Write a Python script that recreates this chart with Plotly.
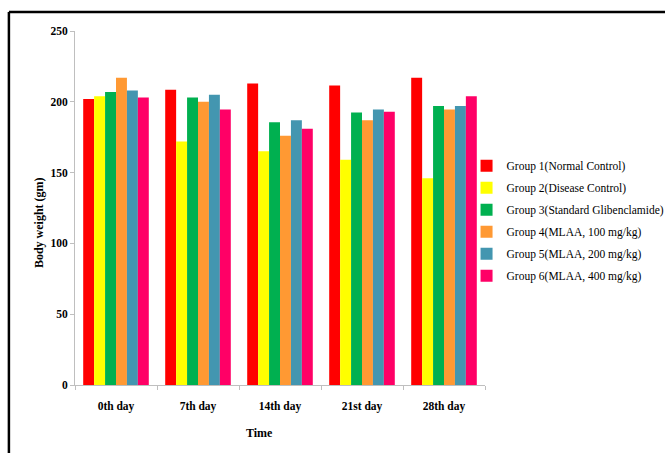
import plotly.graph_objects as go

# Body weight (gm) per group over the study period
days = ["0th day", "7th day", "14th day", "21st day", "28th day"]

group1 = [202, 208.5, 213, 211.5, 217]
group2 = [204, 172, 165, 159, 146]
group3 = [207, 203, 185.5, 192.5, 197]
group4 = [217, 200, 176, 187, 194.5]
group5 = [208, 205, 187, 194.5, 197]
group6 = [203, 194.5, 181, 193, 204]

names = [
    "Group 1(Normal Control)",
    "Group 2(Disease Control)",
    "Group 3(Standard Glibenclamide)",
    "Group 4(MLAA, 100 mg/kg)",
    "Group 5(MLAA, 200 mg/kg)",
    "Group 6(MLAA, 400 mg/kg)",
]
colors = ["#FF0000", "#FFFF00", "#00B050", "#FF9933", "#4396B0", "#FF0066"]
series = [group1, group2, group3, group4, group5, group6]

serif = "Liberation Serif, Times New Roman, serif"

fig = go.Figure()
for i, (name, vals, col) in enumerate(zip(names, series, colors)):
    fig.add_trace(go.Bar(
        x=days, y=vals, name=name,
        marker=dict(color=col, line=dict(width=0)),
        legendgroup=f"g{i}",
    ))

fig.update_layout(
    width=665, height=453,
    margin=dict(l=75, r=180, t=31, b=68, autoexpand=False),
    paper_bgcolor="white", plot_bgcolor="white",
    barmode="group", bargap=0.2, bargroupgap=0,
    font=dict(family=serif, color="#000000", size=11),
    showlegend=True,
    legend=dict(
        x=0.955, y=0.66, xanchor="left", yanchor="top",
        font=dict(family=serif, size=11.5, color="#000000"),
        itemwidth=30, tracegroupgap=3,
        traceorder="grouped",
        bgcolor="rgba(0,0,0,0)",
    ),
    xaxis=dict(
        showline=True, linecolor="#BFBFBF", linewidth=1,
        ticks="outside", tickson="boundaries", ticklen=4, tickcolor="#BFBFBF",
        ticklabelstandoff=10,
        tickfont=dict(family=serif, size=11.5, color="#000000", weight="bold"),
        showgrid=False,
    ),
    yaxis=dict(
        range=[0, 250], dtick=50,
        showline=True, linecolor="#BFBFBF", linewidth=1,
        ticks="outside", ticklen=4, tickcolor="#BFBFBF",
        tickfont=dict(family=serif, size=11.5, color="#000000", weight="bold"),
        showgrid=False, zeroline=False,
    ),
)

# Axis titles
fig.add_annotation(text="<b>Time</b>", xref="paper", yref="paper",
                   x=0.449, y=-0.136, yanchor="middle", showarrow=False,
                   font=dict(family=serif, size=12, color="#000000"))
fig.add_annotation(text="<b>Body weight (gm)</b>", xref="paper", yref="paper",
                   x=-0.11, y=0.46, textangle=-90, showarrow=False,
                   font=dict(family=serif, size=12, color="#000000"))

# Frame lines along the left and top edges of the page
fig.add_shape(type="line", xref="paper", yref="paper",
              x0=-0.1612, x1=-0.1612, y0=-0.2, y1=1.054,
              line=dict(color="black", width=2.5))
fig.add_shape(type="line", xref="paper", yref="paper",
              x0=-0.1612, x1=1.5, y0=1.054, y1=1.054,
              line=dict(color="black", width=2.5))

fig.write_html("out.html")
